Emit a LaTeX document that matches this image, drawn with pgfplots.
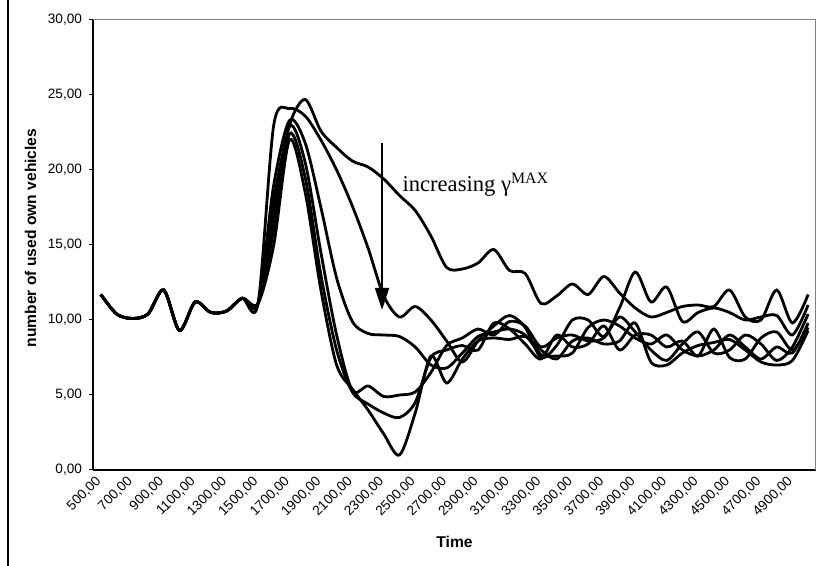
\documentclass[border=0pt]{standalone}
\usepackage{pgfplots}
\pgfplotsset{compat=1.18}
\usepackage{pgfplotstable}
\usepackage{fontspec}
\setmainfont{Liberation Sans}
\newfontfamily\timesfont{Liberation Serif}
\usetikzlibrary{arrows.meta}

% number of used own vehicles over time, one column per gamma^MAX setting
\pgfplotstableread{
t     A     B     C     D     E     F
500   11.7  11.7  11.7  11.7  11.7  11.7
600   10.4  10.4  10.4  10.4  10.4  10.4
700   10.1  10.1  10.1  10.1  10.1  10.1
800   10.4  10.4  10.4  10.4  10.4  10.4
900   12.0  12.0  12.0  12.0  12.0  12.0
1000  9.3   9.3   9.3   9.3   9.3   9.3
1100  11.2  11.2  11.2  11.2  11.2  11.2
1200  10.5  10.5  10.5  10.5  10.5  10.5
1300  10.6  10.6  10.6  10.6  10.6  10.6
1400  11.45 11.45 11.45 11.45 11.45 11.45
1500  11.1  11.1  11.1  11.1  11.1  11.1
1600  18.0  23.0  19.0  17.0  16.0  15.0
1700  23.0  24.1  23.3  22.9  22.4  22.0
1800  24.7  23.6  21.8  20.5  19.5  18.5
1900  22.6  22.0  17.5  14.5  13.0  12.0
2000  21.5  20.0  12.8  9.0   8.0   7.0
2100  20.6  17.6  9.9   5.3   5.2   5.4
2200  20.2  14.8  9.1   5.6   4.4   4.0
2300  19.4  11.6  9.0   4.9   3.8   2.4
2400  18.3  10.2  8.9   5.0   3.5   1.0
2500  17.3  10.9  8.2   5.2   4.5   3.8
2600  15.6  10.0  7.0   6.5   7.5   7.6
2700  13.5  8.6   6.8   8.3   8.0   5.8
2800  13.4  7.2   7.8   8.8   8.3   7.4
2900  13.8  8.6   8.9   9.4   8.0   8.6
3000  14.7  9.6   9.2   9.0   9.8   8.8
3100  13.3  10.3  9.4   9.9   9.4   8.7
3200  13.1  9.5   9.0   9.6   8.4   8.9
3300  11.1  7.5   7.7   8.2   7.4   8.0
3400  11.6  8.3   7.6   8.8   9.0   7.4
3500  12.4  10.0  7.8   9.0   8.2   8.6
3600  11.7  10.0  9.5   8.6   8.4   8.8
3700  12.9  8.9   10.0  8.8   9.6   8.4
3800  11.8  10.8  9.6   10.2  8.0   8.6
3900  10.8  13.2  8.8   9.2   9.0   9.8
4000  10.2  11.2  8.4   8.0   9.0   7.2
4100  10.5  12.2  9.0   7.3   8.2   7.0
4200  10.9  9.9   8.0   8.4   8.6   7.8
4300  11.0  10.5  7.6   9.2   7.6   8.3
4400  10.9  10.8  8.0   7.8   9.4   8.5
4500  12.0  10.5  9.0   8.0   7.5   8.7
4600  10.2  10.0  8.2   9.0   7.4   8.0
4700  10.0  10.2  7.4   8.4   8.8   7.2
4800  12.0  10.3  8.2   7.3   9.2   7.0
4900  9.8   9.0   7.8   8.2   8.0   7.3
5000  11.7  11.0  9.8   10.4  9.5   9.3
}\vehicles

\begin{document}
\begin{tikzpicture}
\path[use as bounding box] (-46.5pt,-48pt) rectangle (363.5pt,235pt);
% chart area border on the left
\draw[line width=0.6pt] (-42.5pt,-48pt) -- (-42.5pt,235pt);
\begin{axis}[
  scale only axis,
  width=361.5pt, height=225pt,
  xmin=450, xmax=5050,
  ymin=0, ymax=30,
  axis x line*=bottom, axis y line*=left,
  axis line style={line width=0.6pt, -},
  xtick={500,700,...,4900},
  minor xtick={450,550,...,5050},
  ytick={0,5,...,30},
  tick align=outside,
  major tick length=2pt,
  minor tick length=2pt,
  x tick style={draw=none},
  every minor tick/.style={black, line width=0.5pt},
  y tick style={black, line width=0.5pt},
  scaled x ticks=false,
  /pgf/number format/.cd, fixed, fixed zerofill, precision=2, use comma, 1000 sep={}, assume math mode=true,
  /pgfplots/.cd,
  tick label style={font=\fontsize{6.8}{8}\selectfont},
  x tick label style={rotate=45, anchor=east, xshift=1pt, yshift=-1pt},
  xlabel={\textbf{Time}},
  ylabel={\textbf{number of used own vehicles}},
  label style={font=\fontsize{7.8}{9}\selectfont},
  xlabel style={yshift=-1pt},
  ylabel style={yshift=-1pt, xshift=3.5pt},
  clip=false,
]
\draw[gray, line width=0.5pt] (rel axis cs:0,1) -- (rel axis cs:1,1) -- (rel axis cs:1,0);
\foreach \col in {A,B,C,D,E,F}{
  \addplot[black, line width=1.4pt, smooth, tension=0.5] table[x=t, y=\col] {\vehicles};
}
\draw[line width=1pt, -{Triangle[width=7pt,length=11pt]}] (axis cs:2289,21.8) -- (axis cs:2289,10.67);
\node[anchor=base west, inner sep=0pt, font=\timesfont\fontsize{11.3}{13}\selectfont]
  at (axis cs:2417,18.55) {increasing γ\textsuperscript{MAX}};
\end{axis}
\end{tikzpicture}
\end{document}
